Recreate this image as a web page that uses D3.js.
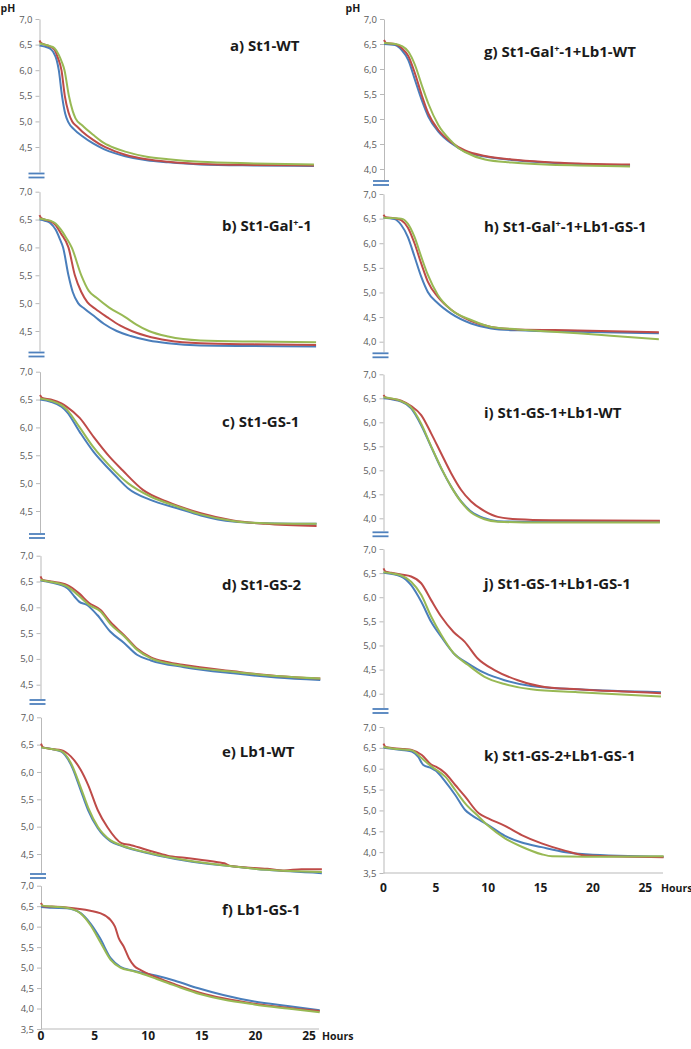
<!DOCTYPE html>
<html><head><meta charset="utf-8">
<script src="https://cdn.jsdelivr.net/npm/d3@7"></script>
<style>html,body{margin:0;padding:0;background:#fff;} svg{display:block;}</style>
</head><body>
<svg id="c" width="691" height="1049"></svg>
<script>
// ---------- DATA (hours, pH) ----------
const seriesNames = ["blue", "red", "green"];
const xTickValues = [0, 5, 10, 15, 20, 25];
const yTicksHigh = [7.0, 6.5, 6.0, 5.5, 5.0, 4.5];
const yTicksMid = [7.0, 6.5, 6.0, 5.5, 5.0, 4.5, 4.0];
const yTicksLow = [7.0, 6.5, 6.0, 5.5, 5.0, 4.5, 4.0, 3.5];
const panelIds = ["a","b","c","d","e","f","g","h","i","j","k"];
const panelTitles = ["a) St1-WT","b) St1-Gal⁺-1","c) St1-GS-1","d) St1-GS-2","e) Lb1-WT","f) Lb1-GS-1",
  "g) St1-Gal⁺-1+Lb1-WT","h) St1-Gal⁺-1+Lb1-GS-1","i) St1-GS-1+Lb1-WT","j) St1-GS-1+Lb1-GS-1","k) St1-GS-2+Lb1-GS-1"];

const a_blue = [[0,6.48],[0.5,6.46],[1,6.42],[1.3,6.35],[1.6,6.2],[1.8,6.0],[2.1,5.5],[2.4,5.15],[2.7,4.98],[3.2,4.85],[4,4.71],[5,4.57],[6,4.46],[7,4.38],[8,4.32],[10,4.24],[12,4.2],[15,4.16],[20,4.14],[25.6,4.13]];
const a_red = [[0,6.58],[0.15,6.53],[0.5,6.5],[1,6.46],[1.4,6.4],[1.7,6.25],[2.05,6.0],[2.36,5.5],[2.7,5.18],[3.05,5.0],[3.5,4.9],[4,4.8],[5,4.64],[6,4.51],[7,4.42],[8,4.35],[10,4.26],[12,4.21],[15,4.17],[20,4.15],[25.6,4.14]];
const a_green = [[0,6.52],[0.5,6.5],[1,6.47],[1.4,6.43],[1.8,6.3],[2.1,6.15],[2.33,6.0],[2.74,5.5],[3.1,5.2],[3.36,5.06],[4,4.92],[5,4.74],[6,4.58],[7,4.48],[8,4.41],[10,4.31],[12,4.26],[15,4.21],[20,4.18],[25.6,4.16]];

const b_blue = [[0,6.5],[0.5,6.48],[1,6.44],[1.5,6.32],[1.9,6.15],[2.2,6.0],[2.7,5.5],[3.1,5.2],[3.6,5.0],[4.2,4.9],[5.2,4.75],[6,4.63],[7.2,4.5],[8.5,4.41],[10.2,4.33],[12,4.28],[15,4.24],[20,4.23],[25.8,4.22]];
const b_red = [[0,6.58],[0.15,6.53],[0.5,6.5],[1,6.47],[1.5,6.4],[2,6.25],[2.7,6.0],[3.3,5.5],[3.9,5.2],[4.46,5.02],[5.2,4.9],[6.3,4.75],[7.5,4.6],[8.6,4.5],[10,4.41],[12,4.33],[15,4.28],[20,4.26],[25.8,4.25]];
const b_green = [[0,6.52],[0.5,6.5],[1,6.48],[1.5,6.43],[2,6.32],[2.5,6.17],[3,6.0],[3.9,5.5],[4.6,5.22],[5.3,5.1],[6.5,4.92],[8,4.75],[9,4.62],[10.2,4.5],[12,4.4],[15,4.33],[20,4.31],[25.8,4.3]];

const c_blue = [[0,6.5],[1,6.46],[2,6.37],[2.5,6.28],[3.7,5.92],[5,5.56],[6.5,5.24],[7.2,5.1],[8.2,4.91],[10.3,4.7],[12.8,4.55],[15,4.42],[18,4.31],[21,4.28],[25.8,4.27]];
const c_red = [[0,6.58],[0.2,6.53],[1,6.5],[2,6.43],[2.5,6.37],[3.7,6.17],[5,5.83],[6.5,5.47],[7.7,5.23],[9.6,4.88],[11.8,4.67],[15,4.46],[18,4.33],[21,4.27],[25.8,4.23]];
const c_green = [[0,6.52],[1,6.48],[2,6.4],[2.5,6.32],[3.7,6.0],[5,5.64],[6.5,5.31],[8.2,5.0],[10.3,4.76],[12.8,4.58],[15,4.44],[18,4.32],[21,4.28],[25.8,4.27]];

const d_blue = [[0,6.52],[1,6.48],[2.5,6.37],[3.2,6.2],[3.6,6.11],[4.3,6.05],[5.3,5.85],[6.5,5.53],[7.8,5.31],[9,5.08],[10.3,4.97],[13.4,4.84],[18,4.72],[22,4.64],[26.1,4.59]];
const d_red = [[0,6.6],[0.2,6.53],[1,6.5],[2.5,6.43],[3.6,6.27],[4.5,6.09],[5.6,5.95],[6.5,5.72],[7.8,5.46],[9,5.2],[10.3,5.03],[11.8,4.94],[13.4,4.88],[18,4.76],[22,4.67],[26.1,4.62]];
const d_green = [[0,6.53],[1,6.49],[2.5,6.4],[3.6,6.22],[4.5,6.05],[5.6,5.92],[6.5,5.68],[7.8,5.44],[9,5.18],[10.3,5.01],[13.4,4.86],[18,4.75],[22,4.67],[26.1,4.62]];

const e_blue = [[0,6.45],[1,6.42],[1.9,6.37],[2.8,6.13],[3.7,5.67],[4.4,5.3],[5.3,4.97],[6.5,4.73],[7.5,4.65],[10.3,4.5],[13.4,4.38],[18,4.27],[21.1,4.21],[26.2,4.15]];
const e_red = [[0,6.52],[0.2,6.45],[1,6.42],[1.9,6.4],[2.8,6.28],[3.7,6.04],[4.4,5.76],[5.3,5.3],[6.2,4.99],[7.5,4.7],[8.4,4.66],[10.3,4.55],[11.8,4.47],[13.4,4.43],[16.5,4.35],[17.1,4.33],[17.7,4.28],[21.1,4.23],[22.7,4.2],[24.3,4.22],[26.2,4.22]];
const e_green = [[0,6.45],[1,6.42],[1.9,6.38],[2.8,6.16],[3.7,5.72],[4.4,5.35],[5.3,5.0],[6.5,4.75],[7.5,4.66],[10.3,4.51],[13.4,4.39],[18,4.27],[21.1,4.21],[26.2,4.17]];

const f_blue = [[0,6.48],[1,6.46],[2.4,6.45],[3.7,6.33],[4.6,6.08],[5.5,5.72],[6.5,5.23],[7.4,5.02],[8.5,4.93],[9.3,4.88],[10.8,4.8],[12.5,4.68],[14.6,4.5],[17,4.33],[19.9,4.17],[23,4.06],[26,3.96]];
const f_red = [[0,6.58],[0.2,6.5],[1,6.49],[2.4,6.47],[4.6,6.39],[5.5,6.33],[6.5,6.16],[6.9,6.0],[7.25,5.72],[7.7,5.52],[8.2,5.23],[8.7,5.04],[9.3,4.94],[10.8,4.76],[12.5,4.59],[14.9,4.38],[17,4.25],[19.9,4.12],[23,4.02],[26,3.94]];
const f_green = [[0,6.52],[1,6.49],[2.4,6.46],[3.7,6.32],[4.6,6.04],[5.5,5.64],[6.5,5.19],[7.4,5.0],[8.5,4.92],[9.3,4.86],[10.8,4.72],[12.5,4.56],[14.9,4.35],[17,4.22],[19.9,4.1],[23,4.0],[26,3.91]];

const g_blue = [[0,6.5],[1.05,6.48],[1.69,6.38],[2.32,6.18],[2.96,5.78],[3.6,5.38],[4.23,5.05],[5.19,4.75],[6.46,4.51],[7.74,4.35],[9.65,4.25],[12.2,4.18],[15.38,4.13],[18.56,4.1],[23.5,4.07]];
const g_red = [[0,6.58],[0.2,6.52],[1.05,6.5],[1.69,6.42],[2.32,6.26],[2.96,5.91],[3.6,5.48],[4.23,5.11],[5.19,4.78],[6.46,4.53],[7.74,4.37],[9.65,4.26],[12.2,4.19],[15.38,4.14],[18.56,4.11],[23.5,4.09]];
const g_green = [[0,6.52],[1.05,6.5],[1.69,6.46],[2.32,6.35],[2.96,6.08],[3.6,5.68],[4.23,5.31],[5.19,4.88],[6.46,4.55],[7.1,4.42],[7.74,4.34],[9.65,4.19],[12.2,4.13],[15.38,4.09],[18.56,4.07],[23.5,4.05]];

const h_blue = [[0,6.52],[1.05,6.49],[1.69,6.37],[2.32,6.13],[2.96,5.73],[3.6,5.32],[4.23,5.01],[5.19,4.78],[6.46,4.57],[8.37,4.37],[10.28,4.27],[12.83,4.23],[18.56,4.2],[26.3,4.17]];
const h_red = [[0,6.58],[0.2,6.53],[1.05,6.51],[1.69,6.47],[2.32,6.32],[2.96,6.0],[3.6,5.59],[4.23,5.22],[5.19,4.91],[6.46,4.65],[8.37,4.42],[10.28,4.3],[12.83,4.25],[18.56,4.23],[26.3,4.19]];
const h_green = [[0,6.52],[1.05,6.51],[1.69,6.5],[2.32,6.4],[2.96,6.13],[3.6,5.73],[4.23,5.36],[5.19,4.95],[6.46,4.65],[8.37,4.44],[10.28,4.3],[12.83,4.25],[15.38,4.21],[18.56,4.17],[21.7,4.12],[26.3,4.05]];

const i_blue = [[0,6.5],[1.69,6.43],[2.64,6.29],[3.6,5.94],[4.55,5.49],[5.51,5.04],[6.46,4.66],[7.42,4.35],[8.37,4.14],[9.65,4.0],[10.92,3.94],[15,3.93],[26.4,3.93]];
const i_red = [[0,6.57],[0.2,6.52],[1.69,6.45],[2.64,6.34],[3.6,6.15],[4.55,5.77],[5.51,5.35],[6.46,4.94],[7.42,4.59],[8.37,4.35],[9.65,4.15],[10.92,4.03],[12.83,3.98],[16,3.96],[26.4,3.95]];
const i_green = [[0,6.52],[1.69,6.44],[2.64,6.31],[3.6,5.97],[4.55,5.5],[5.51,5.05],[6.46,4.66],[7.42,4.34],[8.37,4.12],[9.65,3.98],[10.92,3.93],[15,3.91],[26.4,3.91]];

const j_blue = [[0,6.51],[1.69,6.43],[2.64,6.25],[3.6,5.91],[4.55,5.49],[5.51,5.18],[6.69,4.84],[8.05,4.63],[9.65,4.43],[11.56,4.28],[14.1,4.16],[18.56,4.09],[26.5,4.03]];
const j_red = [[0,6.6],[0.2,6.53],[0.73,6.51],[1.69,6.47],[2.64,6.43],[3.6,6.29],[4.55,5.94],[5.51,5.6],[6.69,5.28],[7.74,5.08],[9.0,4.73],[10.6,4.49],[12.83,4.28],[15.38,4.14],[18.56,4.09],[26.5,4.01]];
const j_green = [[0,6.52],[1.69,6.45],[2.64,6.32],[3.6,6.05],[4.55,5.6],[5.51,5.22],[6.69,4.84],[8.05,4.6],[9.65,4.35],[11.56,4.2],[14.1,4.09],[18.56,4.03],[26.5,3.94]];

const k_blue = [[0,6.5],[1,6.47],[2,6.44],[2.7,6.41],[3.3,6.29],[3.8,6.09],[4.6,6.01],[5,5.95],[5.9,5.69],[6.85,5.37],[7.8,5.01],[8.4,4.89],[10,4.65],[11.6,4.39],[13.2,4.23],[15.1,4.12],[17.4,4.0],[19.3,3.95],[26.75,3.89]];
const k_red = [[0,6.6],[0.2,6.52],[1,6.49],[2,6.47],[2.7,6.45],[3.66,6.33],[4.6,6.09],[5,6.05],[5.9,5.89],[6.85,5.61],[7.8,5.33],[9.1,4.93],[10,4.81],[11.6,4.63],[13.2,4.41],[15.1,4.21],[17.4,4.03],[19.3,3.92],[26.75,3.88]];
const k_green = [[0,6.52],[1,6.48],[2,6.46],[2.7,6.44],[3.66,6.25],[4.6,6.05],[5,5.98],[5.9,5.81],[6.85,5.49],[7.8,5.17],[9.1,4.85],[10,4.63],[11.6,4.33],[13.2,4.13],[15.1,3.95],[16.1,3.9],[19.3,3.89],[26.75,3.9]];

const panelSeries = {
  a:[a_blue,a_red,a_green], b:[b_blue,b_red,b_green], c:[c_blue,c_red,c_green],
  d:[d_blue,d_red,d_green], e:[e_blue,e_red,e_green], f:[f_blue,f_red,f_green],
  g:[g_blue,g_red,g_green], h:[h_blue,h_red,h_green], i:[i_blue,i_red,i_green],
  j:[j_blue,j_red,j_green], k:[k_blue,k_red,k_green]
};
const panelTicks = {a:yTicksHigh,b:yTicksHigh,c:yTicksHigh,d:yTicksHigh,e:yTicksHigh,f:yTicksLow,
  g:yTicksMid,h:yTicksMid,i:yTicksMid,j:yTicksMid,k:yTicksLow};

// ---------- LAYOUT ----------
const colors = ["#4a7ebb", "#be4b48", "#98b954"];
const colPxPerHour = [10.72, 10.47];
const layout = {
  a:{col:0, x0:39.5, y7:19,    refV:4.5, refY:147,   brk:173.5, tx:230, ty:51},
  b:{col:0, x0:39.5, y7:191.7, refV:4.5, refY:331,   brk:352.5, tx:222, ty:231},
  c:{col:0, x0:40,   y7:371.7, refV:4.5, refY:511,   brk:534,   tx:222, ty:427},
  d:{col:0, x0:40.5, y7:555.7, refV:4.5, refY:684.7, brk:700,   tx:222, ty:590},
  e:{col:0, x0:41,   y7:717.3, refV:4.5, refY:854,   brk:874,   tx:222, ty:757},
  f:{col:0, x0:41,   y7:885.7, refV:3.5, refY:1029,  brk:null,  tx:222, ty:915, xEnd:319, lblY:1039.5, hoursX:322},
  g:{col:1, x0:384,  y7:19,    refV:4.0, refY:169,   brk:181,   tx:484, ty:57},
  h:{col:1, x0:383.5,y7:194,   refV:4.0, refY:341.7, brk:353.3, tx:484, ty:232},
  i:{col:1, x0:383.5,y7:374.3, refV:4.0, refY:518.3, brk:532.3, tx:484, ty:418},
  j:{col:1, x0:383.5,y7:549,   refV:4.0, refY:693.7, brk:709,   tx:484, ty:589},
  k:{col:1, x0:383.5,y7:727,   refV:3.5, refY:873,   brk:null,  tx:484, ty:761, xEnd:663, lblY:892, hoursX:661}
};

const svg = d3.select("#c");
const fmt = v => d3.format(".1f")(v).replace(".", ",");
const fontTick = "'Open Sans', 'Liberation Sans', sans-serif";

panelIds.forEach((id, idx) => {
  const L = layout[id];
  const pph = colPxPerHour[L.col];
  const x = d3.scaleLinear().domain([0, 25]).range([L.x0, L.x0 + 25 * pph]);
  const pxPerPH = (L.refY - L.y7) / (7 - L.refV);
  const bottomPx = L.brk !== null ? L.brk - 1.5 : L.refY;
  const yMin = 7 - (bottomPx - L.y7) / pxPerPH;
  const y = d3.scaleLinear().domain([yMin, 7]).range([bottomPx, L.y7]);
  const g = svg.append("g");

  // y axis
  const ax = g.append("g").attr("transform", `translate(${L.x0},0)`)
    .call(d3.axisLeft(y).tickValues(panelTicks[id]).tickFormat(fmt).tickSize(4).tickSizeOuter(0).tickPadding(3));
  ax.select(".domain").attr("stroke", "#b9b9b9").attr("stroke-width", 1);
  ax.selectAll(".tick line").attr("stroke", "#b9b9b9");
  ax.selectAll(".tick text").attr("fill", "#595959").style("font-family", fontTick).style("font-size", "9.5px");

  // axis break or x axis
  if (L.brk !== null) {
    [0, 4].forEach(off => {
      g.append("line").attr("x1", L.x0 - 11).attr("x2", L.x0 + 5)
        .attr("y1", L.brk + off).attr("y2", L.brk + off)
        .attr("stroke", "#4f81bd").attr("stroke-width", 1.8);
    });
  } else {
    g.append("line").attr("x1", L.x0).attr("x2", L.xEnd).attr("y1", L.refY).attr("y2", L.refY)
      .attr("stroke", "#b9b9b9").attr("stroke-width", 1);
    g.selectAll(".xt").data(xTickValues).join("text")
      .attr("x", d => x(d)).attr("y", L.lblY).attr("text-anchor", "middle")
      .style("font-family", fontTick).style("font-weight", "bold").style("font-size", "12px")
      .attr("fill", "#1a1a1a").text(d => d);
    g.append("text").attr("x", L.hoursX).attr("y", L.lblY)
      .style("font-family", fontTick).style("font-weight", "bold").style("font-size", "10.5px")
      .attr("fill", "#1a1a1a").text("Hours");
  }

  // lines
  const line = d3.line().x(d => x(d[0])).y(d => y(d[1])).curve(d3.curveMonotoneX);
  panelSeries[id].forEach((s, si) => {
    g.append("path").attr("d", line(s)).attr("fill", "none")
      .attr("stroke", colors[si]).attr("stroke-width", 2).attr("stroke-linejoin", "round");
  });

  // title
  const t = g.append("text").attr("x", L.tx).attr("y", L.ty)
    .style("font-family", fontTick).style("font-weight", "bold").style("font-size", "15px")
    .attr("fill", "#1a1a1a");
  const parts = panelTitles[idx].split("⁺");
  parts.forEach((p, pi) => {
    t.append("tspan").text(p).attr("dy", pi > 0 ? 5 : null);
    if (pi < parts.length - 1) {
      t.append("tspan").text("+").style("font-size", "9px").attr("dy", -5);
    }
  });
});

// pH labels
[0, 345].forEach(px => {
  svg.append("text").attr("x", px + 0.5).attr("y", 12)
    .style("font-family", fontTick).style("font-weight", "bold").style("font-size", "10.5px")
    .attr("fill", "#1a1a1a").text("pH");
});
</script>
</body></html>
